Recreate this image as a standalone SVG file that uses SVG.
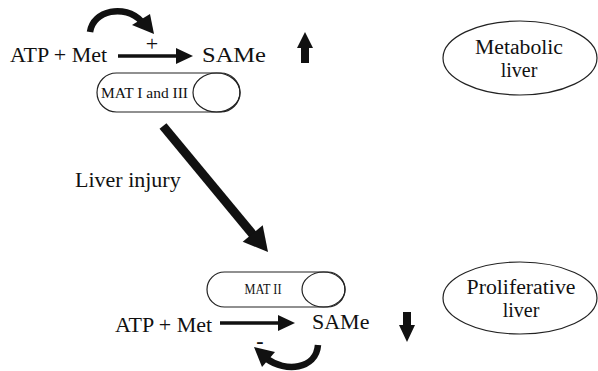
<svg xmlns="http://www.w3.org/2000/svg" width="598" height="371" viewBox="0 0 598 371">
<style>
text{font-family:"Liberation Serif","Times New Roman",serif;fill:#111}
.big{font-size:22px}
.lab{font-size:20px}
.small{font-size:14px}
.outline{fill:none;stroke:#222;stroke-width:1.2}
.line{stroke:#111;stroke-width:3.5;fill:none}
.thick{stroke:#111;stroke-width:6.5;fill:none}
.head{fill:#111}
</style>
<rect width="598" height="371" fill="#fff"/>
<g id="top-reaction">
<text class="big" x="10" y="62">ATP + Met</text>
<text class="big" x="202" y="62" textLength="64" lengthAdjust="spacingAndGlyphs">SAMe</text>
<text x="152" y="51" text-anchor="middle" style="font-size:22px">+</text>
</g>
<g id="mat-1-3">
<rect class="outline" x="97" y="73" width="143" height="39" rx="19.5"/>
<ellipse class="outline" cx="216.5" cy="92.5" rx="23.5" ry="19.5"/>
<text class="small" x="101" y="98" textLength="87" lengthAdjust="spacingAndGlyphs">MAT I and III</text>
</g>
<g id="metabolic-liver">
<ellipse class="outline" cx="520" cy="58" rx="77" ry="37"/>
<text class="lab" x="519" y="54" text-anchor="middle" textLength="88" lengthAdjust="spacingAndGlyphs">Metabolic</text>
<text class="lab" x="519" y="77" text-anchor="middle">liver</text>
</g>
<g id="injury-label">
<text class="big" x="75" y="187">Liver injury</text>
</g>
<g id="mat-2">
<rect class="outline" x="207" y="272" width="138" height="35" rx="17.5"/>
<ellipse class="outline" cx="323.5" cy="289.5" rx="21.5" ry="17.5"/>
<text class="small" x="263" y="294" text-anchor="middle" textLength="37" lengthAdjust="spacingAndGlyphs">MAT II</text>
</g>
<g id="bottom-reaction">
<text class="big" x="115" y="332">ATP + Met</text>
<text class="big" x="312" y="329">SAMe</text>
<text x="260" y="348" text-anchor="middle" style="font-size:22px;font-weight:bold">-</text>
</g>
<g id="proliferative-liver">
<ellipse class="outline" cx="520" cy="298" rx="77" ry="36"/>
<text class="lab" x="521" y="294" text-anchor="middle" textLength="109" lengthAdjust="spacingAndGlyphs">Proliferative</text>
<text class="lab" x="521" y="317" text-anchor="middle">liver</text>
</g>
<g id="connectors">
<line class="line" x1="118" y1="56" x2="178" y2="56"/>
<polygon class="head" points="176,48 193,56 176,64"/>
<path class="thick" d="M90 32 C93 10 125 4 141 21"/>
<polygon class="head" points="132,25 154,34 150,14"/>
<polygon class="head" points="301,63 309,63 309,48 313,48 305,32 297,48 301,48"/>
<line x1="163" y1="126" x2="254" y2="236" stroke="#111" stroke-width="9"/>
<polygon class="head" points="268,252 242.7,241.8 262.7,225.2"/>
<line class="line" x1="220" y1="323" x2="280" y2="323"/>
<polygon class="head" points="278,315 295,323 278,331"/>
<path class="thick" d="M318 345 C316 370 285 372 267 359"/>
<polygon class="head" points="254,347 275,352 262,367"/>
<polygon class="head" points="403,312 411,312 411,325 415,325 407,342 399,325 403,325"/>
</g>
</svg>
